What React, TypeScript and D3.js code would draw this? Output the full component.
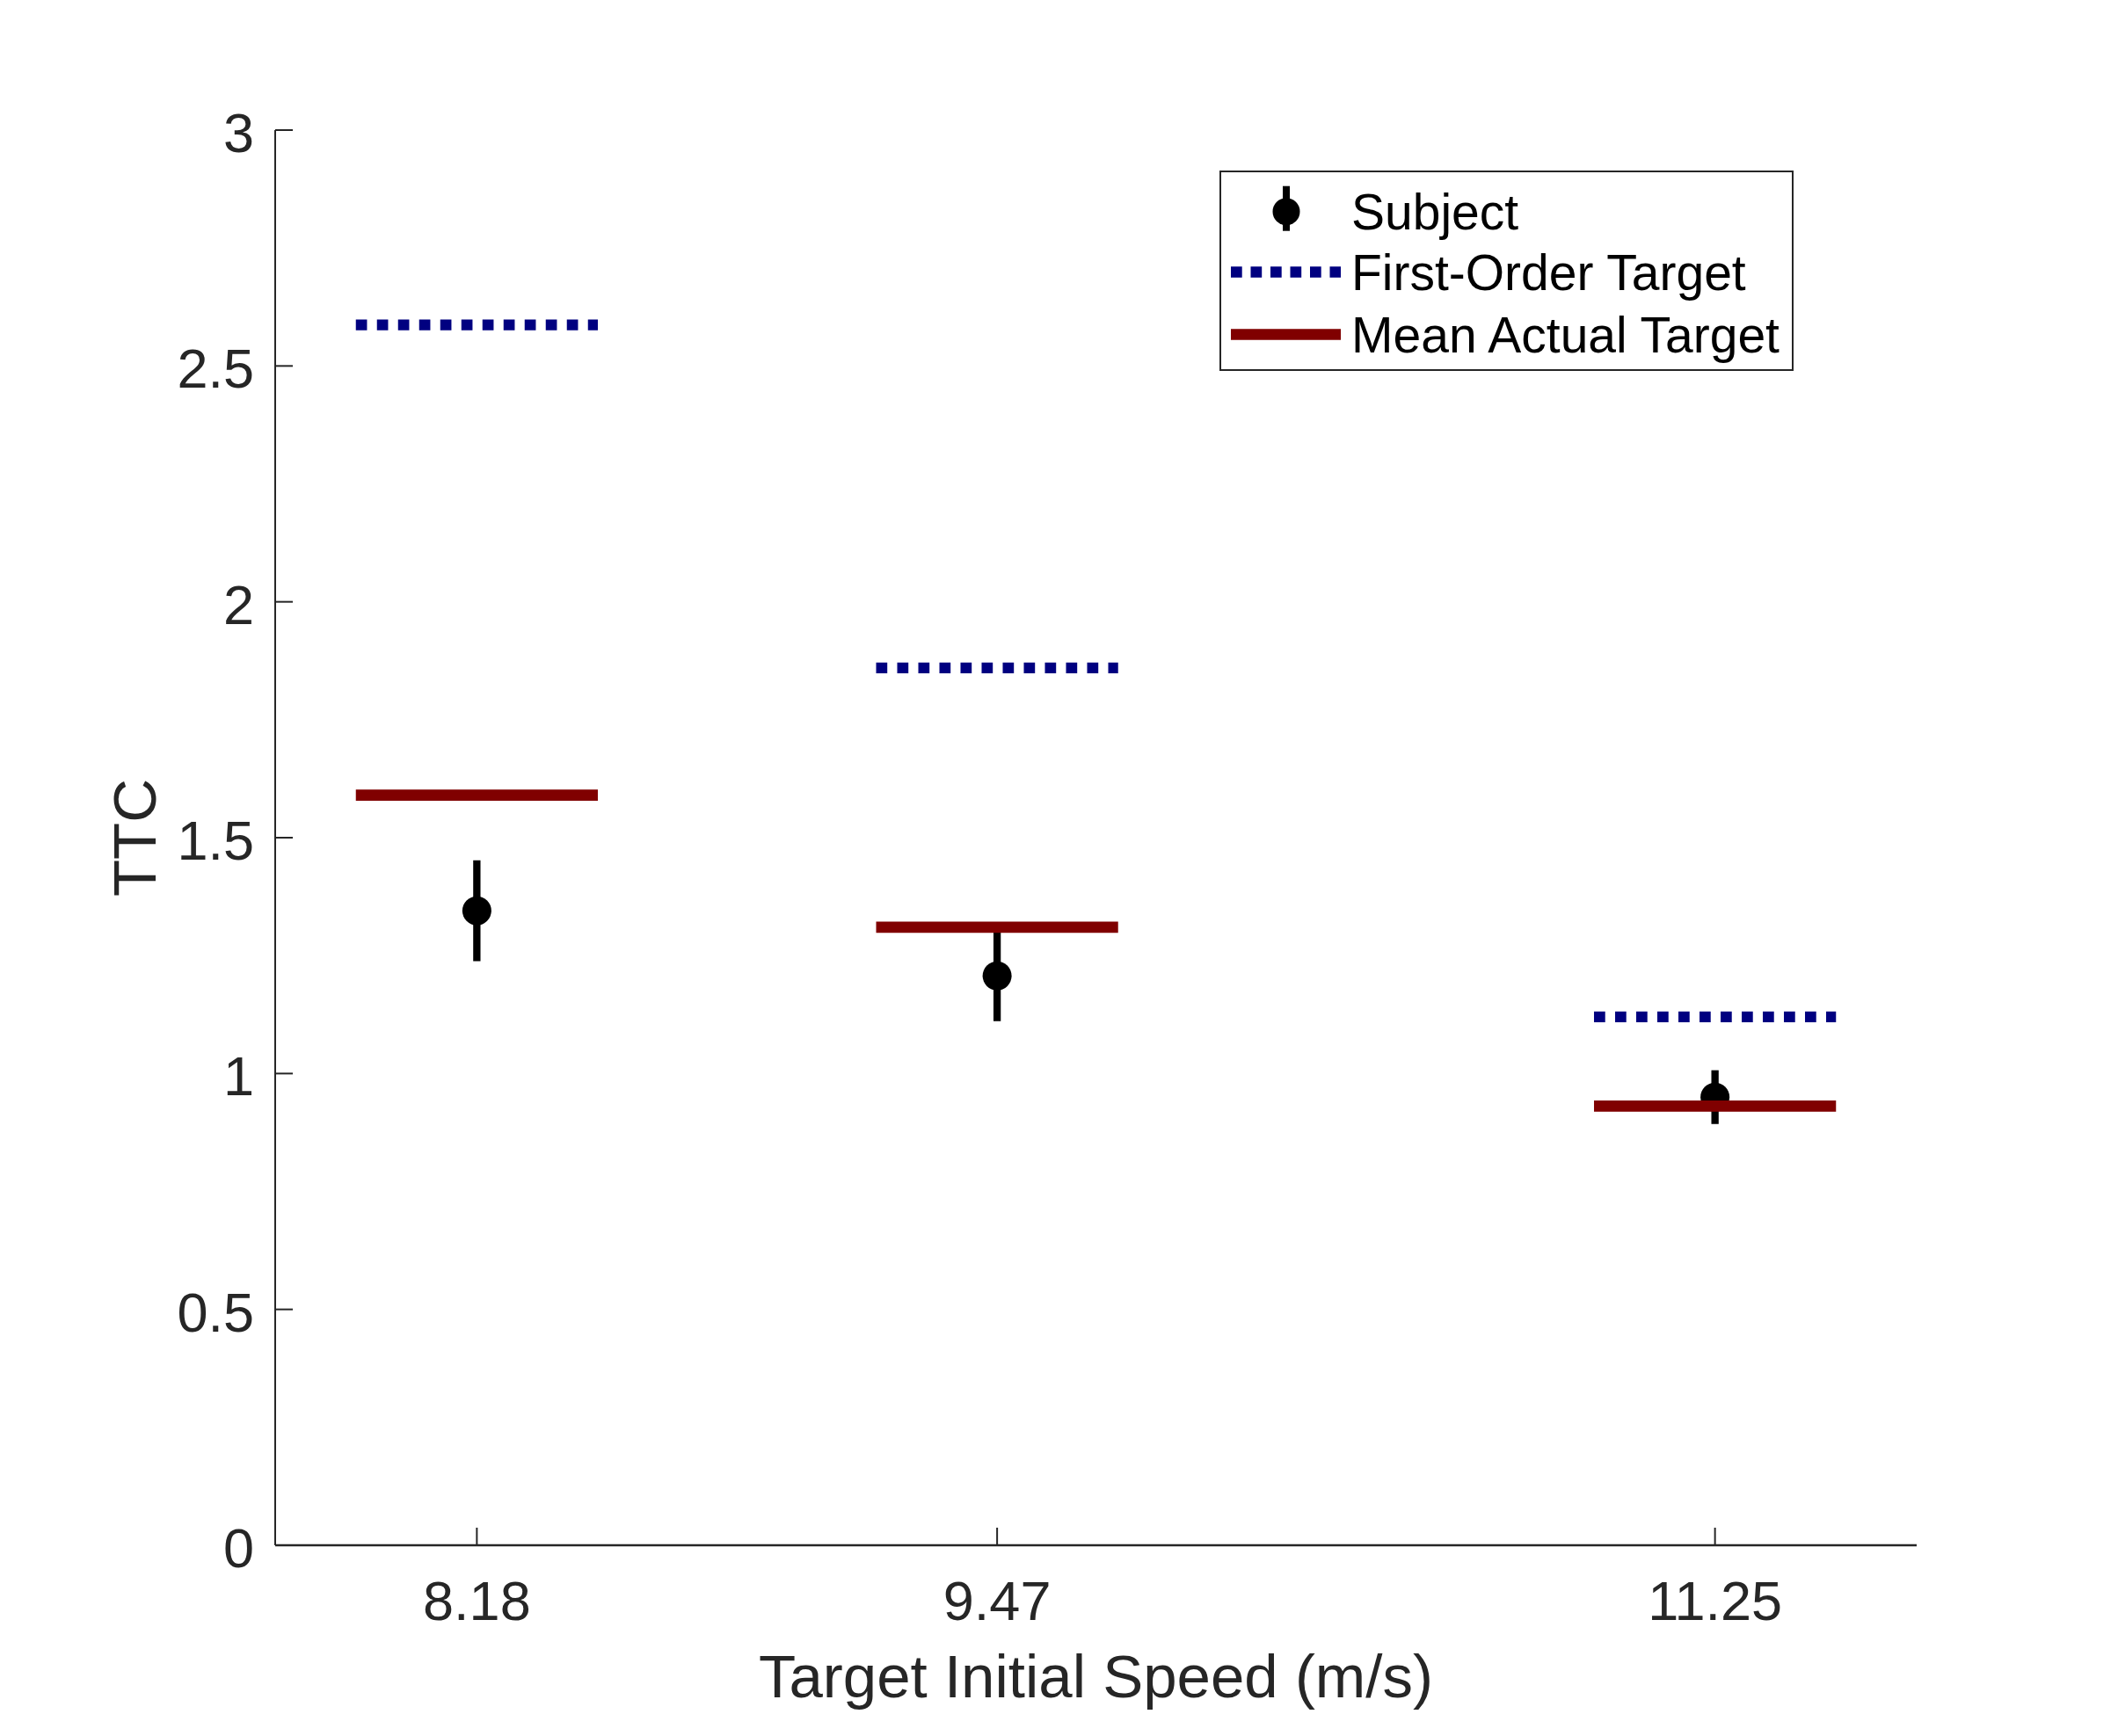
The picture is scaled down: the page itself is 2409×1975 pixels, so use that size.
import React from "react";
import * as d3 from "d3";

const categories = [8.18, 9.47, 11.25];
const subjectMean = [1.345, 1.207, 0.95];
const subjectErr = [0.107, 0.096, 0.057];
const firstOrderTarget = [2.587, 1.86, 1.12];
const meanActualTarget = [1.59, 1.31, 0.931];
const yTicks = [0, 0.5, 1, 1.5, 2, 2.5, 3];
const xTickLabels = ["8.18", "9.47", "11.25"];
const legendLabels = ["Subject", "First-Order Target", "Mean Actual Target"];
const halfWidth = 0.3;

const W = 2409;
const H = 1975;
const M = { left: 313, right: 2180, top: 148, bottom: 1758 };
const AXIS = "#262626";
const BLUE = "#000080";
const RED = "#800000";
const FONT = "'Liberation Sans', Arial, Helvetica, sans-serif";

export default function App() {
  const x = d3.scaleLinear().domain([7.68, 11.75]).range([M.left, M.right]);
  const y = d3.scaleLinear().domain([0, 3]).range([M.bottom, M.top]);
  const hline = d3.line<[number, number]>().x((d) => x(d[0])).y((d) => y(d[1]));

  const lg = { x0: 1388, y0: 195, x1: 2039, y1: 421 };
  const rows = [240.7, 309.5, 380.5];

  return (
    <svg
      width={W}
      height={H}
      viewBox={`0 0 ${W} ${H}`}
      style={{ position: "absolute", left: 0, top: 0, background: "#fff" }}
      fontFamily={FONT}
    >
      <rect x={0} y={0} width={W} height={H} fill="#fff" />
      {/* axes */}
      <line x1={M.left} x2={M.left} y1={M.top} y2={M.bottom} stroke={AXIS} strokeWidth={2} />
      <line x1={M.left} x2={M.right} y1={M.bottom} y2={M.bottom} stroke={AXIS} strokeWidth={2.5} />
      {yTicks.map((t) => (
        <g key={"y" + t}>
          <line x1={M.left} x2={M.left + 20} y1={y(t)} y2={y(t)} stroke={AXIS} strokeWidth={2} />
          <text x={289} y={y(t) + 25} textAnchor="end" fontSize={63} fill={AXIS}>
            {String(t)}
          </text>
        </g>
      ))}
      {categories.map((c, i) => (
        <g key={"x" + c}>
          <line x1={x(c)} x2={x(c)} y1={M.bottom} y2={M.bottom - 20} stroke={AXIS} strokeWidth={2} />
          <text x={x(c)} y={M.bottom + 85} textAnchor="middle" fontSize={63} fill={AXIS}>
            {xTickLabels[i]}
          </text>
        </g>
      ))}
      <text x={(M.left + M.right) / 2} y={1931} textAnchor="middle" fontSize={69} fill={AXIS}>
        Target Initial Speed (m/s)
      </text>
      <text transform={`translate(177,953) rotate(-90)`} textAnchor="middle" fontSize={69} fill={AXIS}>
        TTC
      </text>

      {/* subject */}
      {categories.map((c, i) => (
        <g key={"s" + c}>
          <line
            x1={x(c)}
            x2={x(c)}
            y1={y(subjectMean[i] + subjectErr[i])}
            y2={y(subjectMean[i] - subjectErr[i])}
            stroke="#000"
            strokeWidth={8.3}
          />
          <circle cx={x(c)} cy={y(subjectMean[i])} r={16.5} fill="#000" />
        </g>
      ))}
      {/* first order */}
      {categories.map((c, i) => (
        <path
          key={"b" + c}
          d={hline([
            [c - halfWidth, firstOrderTarget[i]],
            [c + halfWidth, firstOrderTarget[i]],
          ]) || ""}
          stroke={BLUE}
          strokeWidth={12.3}
          strokeDasharray="12.7 11.3"
          fill="none"
        />
      ))}
      {/* mean actual */}
      {categories.map((c, i) => (
        <path
          key={"r" + c}
          d={hline([
            [c - halfWidth, meanActualTarget[i]],
            [c + halfWidth, meanActualTarget[i]],
          ]) || ""}
          stroke={RED}
          strokeWidth={12.7}
          fill="none"
        />
      ))}

      {/* legend */}
      <rect
        x={lg.x0}
        y={lg.y0}
        width={lg.x1 - lg.x0}
        height={lg.y1 - lg.y0}
        fill="#fff"
        stroke={AXIS}
        strokeWidth={2}
      />
      <line x1={1463} x2={1463} y1={rows[0] - 29} y2={rows[0] + 22} stroke="#000" strokeWidth={8} />
      <circle cx={1463} cy={rows[0]} r={15.5} fill="#000" />
      <line x1={1400} x2={1525} y1={rows[1]} y2={rows[1]} stroke={BLUE} strokeWidth={12.3} strokeDasharray="12.7 9.8" />
      <line x1={1400} x2={1525} y1={rows[2]} y2={rows[2]} stroke={RED} strokeWidth={12.7} />
      {legendLabels.map((l, i) => (
        <text key={l} x={1537} y={rows[i] + 20} fontSize={57} fill="#000">
          {l}
        </text>
      ))}
    </svg>
  );
}
